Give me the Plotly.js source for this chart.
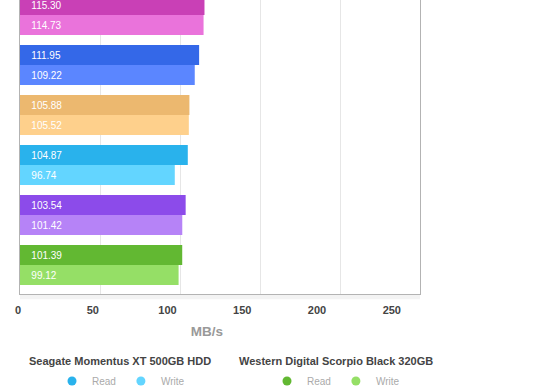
<!DOCTYPE html>
<html>
<head>
<meta charset="utf-8">
<script src="https://cdn.plot.ly/plotly-3.0.1.min.js"></script>
<style>html,body{margin:0;padding:0;background:#fff}#chart{width:560px;height:390px}</style>
</head>
<body>
<div id="chart"></div>
<script>
// Drive categories, top to bottom (upper names are cut off in the reference)
const drives = ['Drive A', 'Drive B', 'Drive C', 'Seagate Momentus XT 500GB HDD', 'Drive D', 'Western Digital Scorpio Black 320GB'];
const readMBs  = [115.30, 111.95, 105.88, 104.87, 103.54, 101.39];
const writeMBs = [114.73, 109.22, 105.52, 96.74, 101.42, 99.12];
const readColors  = ['#C940B6', '#3468E8', '#ECB86F', '#29B2EC', '#8C4BEA', '#62B832'];
const writeColors = ['#EA73DB', '#5B86FF', '#FED08C', '#63D5FF', '#B683F7', '#95DF66'];
const seriesNames = ['Read', 'Write'];
const tickValues = [0, 50, 100, 150, 200, 250];
const legendDrives = ['Seagate Momentus XT 500GB HDD', 'Western Digital Scorpio Black 320GB'];

const FONT = 'Liberation Sans, Arial, Helvetica, sans-serif';
const traces = [];
drives.forEach((d, i) => {
  [[readMBs, readColors, 'read'], [writeMBs, writeColors, 'write']].forEach(([vals, cols, grp], k) => {
    traces.push({
      type: 'bar', orientation: 'h',
      name: seriesNames[k], y: [d], x: [vals[i]],
      offsetgroup: grp,
      marker: {color: cols[i], line: {width: 0}},
      text: [vals[i].toFixed(2)],
      texttemplate: '\u00a0\u00a0\u00a0%{text}',
      textposition: 'inside', insidetextanchor: 'start', textangle: 0,
      textfont: {family: FONT, size: 10, color: '#ffffff'},
      showlegend: false, hoverinfo: 'skip'
    });
  });
});

// legend entries for the two visible legend groups
legendDrives.forEach((d, j) => {
  const i = drives.indexOf(d);
  [readColors[i], writeColors[i]].forEach((c, k) => {
    traces.push({
      type: 'scatter', mode: 'markers', name: seriesNames[k],
      x: [null], y: [null], xaxis: 'x2', yaxis: 'y',
      marker: {color: c, size: 9, symbol: 'circle'},
      legend: j === 0 ? 'legend' : 'legend2',
      showlegend: true, hoverinfo: 'skip'
    });
  });
});

const legendCommon = {
  orientation: 'h', xanchor: 'center', yanchor: 'middle', y: -0.296,
  font: {family: FONT, size: 10, color: '#aaaaaa'},
  bgcolor: 'rgba(0,0,0,0)', borderwidth: 0, itemclick: false, itemdoubleclick: false
};

const layout = {
  width: 560, height: 390,
  margin: {l: 20, r: 140, t: 0, b: 96, pad: 0, autoexpand: false},
  paper_bgcolor: '#ffffff', plot_bgcolor: 'rgba(0,0,0,0)',
  font: {family: FONT},
  barmode: 'group', bargap: 0.2, bargroupgap: 0,
  xaxis: {
    range: [0, 250], dtick: 50, tick0: 0, showticklabels: false, ticks: '',
    showgrid: true, gridcolor: '#e6e6e6', gridwidth: 1, zeroline: false,
    showline: true, linecolor: '#b3b3b3', linewidth: 1, mirror: false, fixedrange: true
  },
  xaxis2: {
    domain: [0, 0.9345], range: [0, 250], anchor: 'free', position: 0,
    tickvals: tickValues, ticks: '', showgrid: false, zeroline: false, showline: false,
    ticklabelshift: -2, ticklabelstandoff: 8,
    tickfont: {family: FONT, size: 11, color: '#444444', weight: 'bold'},
    title: {text: 'MB/s', font: {family: FONT, size: 13.5, color: '#999999', weight: 'bold'}, standoff: 11},
    fixedrange: true
  },
  yaxis: {
    type: 'category', categoryorder: 'array', categoryarray: drives,
    range: [5.58, -0.3], showticklabels: false, ticks: '', showgrid: false, zeroline: false,
    showline: true, linecolor: '#b3b3b3', linewidth: 1, mirror: true, fixedrange: true
  },
  legend: Object.assign({}, legendCommon, {x: 0.2525}),
  legend2: Object.assign({}, legendCommon, {x: 0.79}),
  annotations: [
    {text: legendDrives[0], xref: 'paper', yref: 'paper', x: 0.249, y: -0.228, showarrow: false,
     xanchor: 'center', yanchor: 'middle', font: {family: FONT, size: 11, color: '#444444', weight: 'bold'}},
    {text: legendDrives[1], xref: 'paper', yref: 'paper', x: 0.791, y: -0.228, showarrow: false,
     xanchor: 'center', yanchor: 'middle', font: {family: FONT, size: 11, color: '#444444', weight: 'bold'}}
  ],
  shapes: [
    {type: 'rect', xref: 'paper', yref: 'paper', x0: 0, x1: 1, y0: -0.018, y1: -0.0034,
     fillcolor: '#f3f3f3', line: {width: 0}, layer: 'below'}
  ]
};

Plotly.newPlot('chart', traces, layout, {staticPlot: true, displayModeBar: false});
</script>
</body>
</html>
